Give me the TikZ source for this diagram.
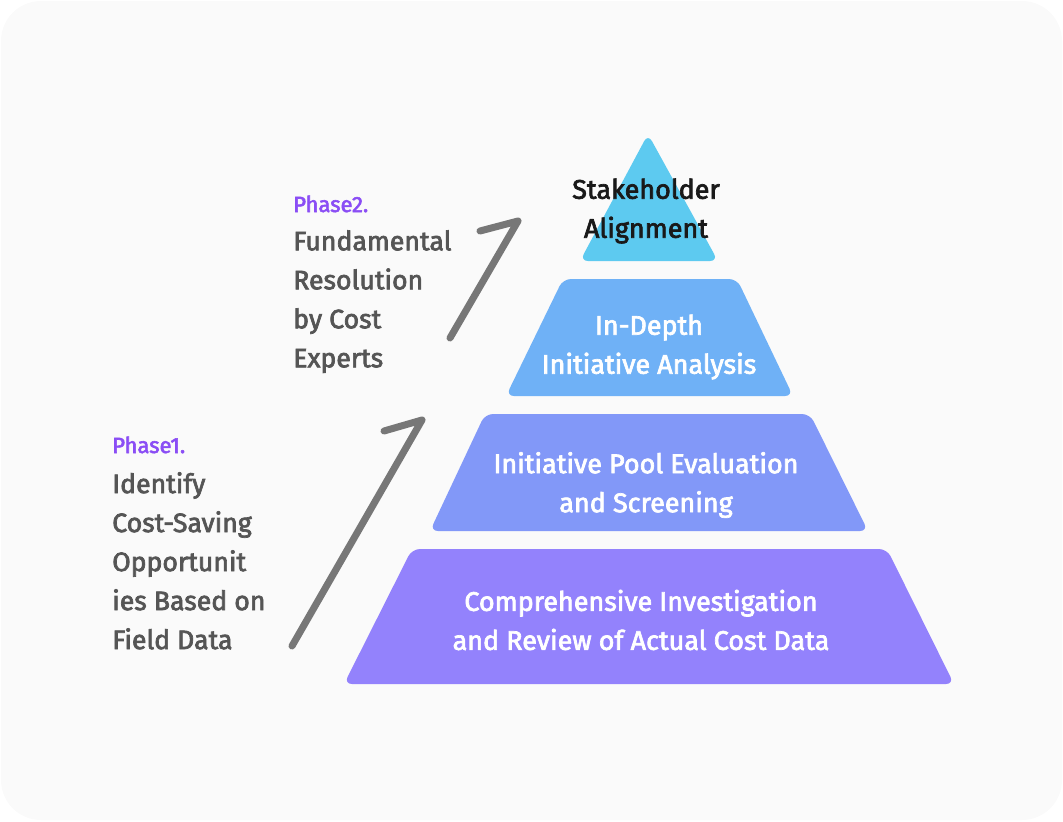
\documentclass[tikz,border=0pt]{standalone}
\usepackage{fontspec}
\setmainfont{Fira Sans}
\newfontfamily\semib{Fira Sans}[FakeBold=2.6]
\definecolor{bgc}{HTML}{FAFAFA}
\definecolor{tric}{HTML}{5DCAF0}
\definecolor{trapb}{HTML}{6FB1F6}
\definecolor{trapc}{HTML}{8298F8}
\definecolor{trapd}{HTML}{9382FC}
\definecolor{phasec}{HTML}{8A4DF5}
\definecolor{bodyc}{HTML}{555555}
\definecolor{arrc}{HTML}{777777}
\tikzset{
  layer/.style={rounded corners=6pt},
  ptext/.style={font=\semib\fontsize{20.2}{29.25}\selectfont, align=center, text=white, inner sep=0pt},
  phasetxt/.style={font=\semib\fontsize{16.5}{18}\selectfont, text=phasec, anchor=base west, inner sep=0pt},
  bodytxt/.style={font=\semib\fontsize{20}{29.25}\selectfont, text=bodyc, align=left, anchor=north west, inner sep=0pt},
  arrline/.style={draw=arrc, line width=5.25pt, line cap=round, line join=round},
}
\begin{document}
\begin{tikzpicture}[x=0.75pt, y=-0.75pt]
\path[use as bounding box] (0,0) rectangle (1063,821);
\fill[bgc, rounded corners=30pt] (1,1) rectangle (1062,820);
% layers
\fill[tric, layer] (648,134) -- (718,261) -- (580,261) -- cycle;
\fill[trapb, layer] (563,279) -- (737,279) -- (793,396) -- (506,396) -- cycle;
\fill[trapc, layer] (485,414) -- (810,414) -- (868,531) -- (430,531) -- cycle;
\fill[trapd, layer] (412,549) -- (887,549) -- (954,684) -- (344,684) -- cycle;
% layer texts
\node[ptext, text=black!90, anchor=center] (t1) at (646,211) {Stakeholder\\Alignment};
\node[ptext, anchor=center] (t2) at (649,347) {In-Depth\\Initiative Analysis};
\node[ptext, anchor=center] (t3) at (646,485) {Initiative Pool Evaluation\\and Screening};
\node[ptext, anchor=center] (t4) at (641,620) {Comprehensive Investigation\\and Review of Actual Cost Data};
% phase 2
\node[phasetxt] (ph2) at (293,212) {Phase2.};
\node[bodytxt] (b2) at (293,230) {Fundamental\\Resolution\\by Cost\\Experts};
% phase 1
\node[phasetxt] (ph1) at (112,453) {Phase1.};
\node[bodytxt] (b1) at (112,472) {Identify\\Cost-Saving\\Opportunit\\ies Based on\\Field Data};
% arrows
\coordinate (a2s) at (450,338);
\coordinate (a2t) at (518,221);
\coordinate (a2e) at (480,231);
\draw[arrline] (a2s) -- (a2t) -- (a2e);
\coordinate (a1s) at (292,646);
\coordinate (a1t) at (422,420);
\coordinate (a1e) at (384,431);
\draw[arrline] (a1s) -- (a1t) -- (a1e);
\end{tikzpicture}
\end{document}
